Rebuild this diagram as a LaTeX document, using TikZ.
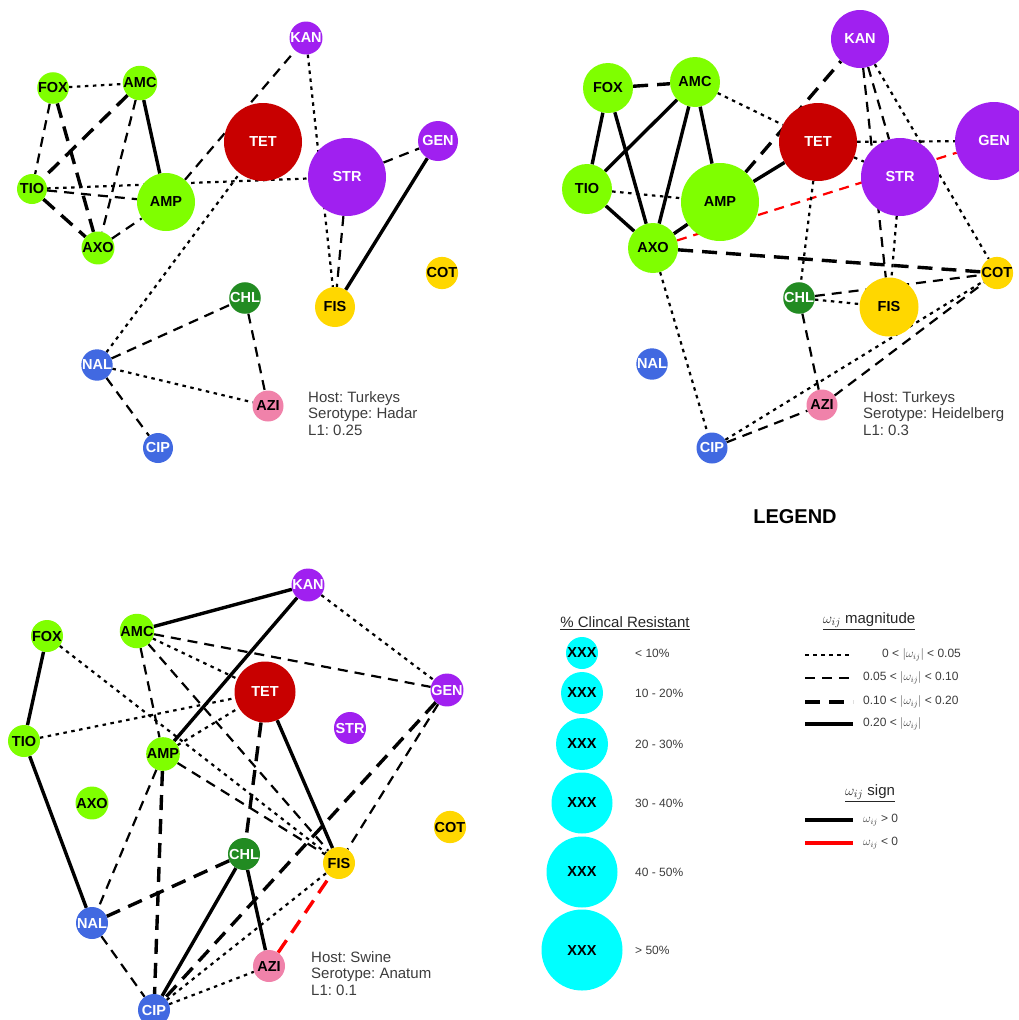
\documentclass[tikz,border=0pt]{standalone}
\usepackage{fontspec}
\setmainfont{Liberation Sans}
\frenchspacing
\pgfdeclarelayer{edges}
\pgfsetlayers{edges,main}

\definecolor{betaGreen}{RGB}{127,255,0}
\definecolor{tetRed}{RGB}{200,0,0}
\definecolor{aminoPurple}{RGB}{160,32,240}
\definecolor{sulfaGold}{RGB}{255,215,0}
\definecolor{phenGreen}{RGB}{34,139,34}
\definecolor{quinBlue}{RGB}{65,105,225}
\definecolor{macroPink}{RGB}{240,130,170}
\definecolor{legCyan}{RGB}{0,255,255}
\definecolor{noteGray}{RGB}{60,60,60}

\tikzset{
  abx/.style={circle, inner sep=0pt, minimum size=#1pt, font=\fontsize{14.5}{16}\selectfont\bfseries},
  beta/.style={fill=betaGreen, text=black},
  tetra/.style={fill=tetRed, text=white},
  amino/.style={fill=aminoPurple, text=white},
  sulfa/.style={fill=sulfaGold, text=black},
  phen/.style={fill=phenGreen, text=white},
  quin/.style={fill=quinBlue, text=white},
  macro/.style={fill=macroPink, text=black},
  % edge classes by |omega_ij|
  e1/.style={line width=2.2pt, dash pattern=on 3.5pt off 4.5pt},
  e2/.style={line width=2.2pt, dash pattern=on 10pt off 7pt},
  e3/.style={line width=3.4pt, dash pattern=on 15pt off 9pt},
  e4/.style={line width=3.4pt},
  neg/.style={draw=red},
  note/.style={align=left, inner sep=0pt, anchor=north west, text=noteGray, font=\fontsize{15}{16.5}\selectfont},
  head/.style={inner sep=0pt, text=black!85, font=\fontsize{15}{17}\selectfont},
  lab/.style={inner sep=0pt, anchor=west, text=noteGray, font=\fontsize{12}{14}\selectfont},
}

\begin{document}
\begin{tikzpicture}[x=1pt,y=-1pt]
  \useasboundingbox (0,0) rectangle (1018,1020);

  % Turkeys / Hadar
  \node[abx=30, amino] (hKAN) at (306,38) {KAN};
  \node[abx=31, beta] (hFOX) at (53,88) {FOX};
  \node[abx=31, beta] (hAMC) at (140,83) {AMC};
  \node[abx=78, tetra] (hTET) at (263,142) {TET};
  \node[abx=78, amino] (hSTR) at (347,177) {STR};
  \node[abx=40, amino] (hGEN) at (438,141) {GEN};
  \node[abx=30, beta] (hTIO) at (32,189) {TIO};
  \node[abx=58, beta] (hAMP) at (166,202) {AMP};
  \node[abx=32, beta] (hAXO) at (98,248) {AXO};
  \node[abx=32, sulfa] (hCOT) at (442,273) {COT};
  \node[abx=30, phen] (hCHL) at (245,298) {CHL};
  \node[abx=40, sulfa] (hFIS) at (335,307) {FIS};
  \node[abx=31, quin] (hNAL) at (97,365) {NAL};
  \node[abx=31, macro] (hAZI) at (268,406) {AZI};
  \node[abx=30, quin] (hCIP) at (158,448) {CIP};
  \node[note] (hNote) at (308,391) {Host: Turkeys\\Serotype: Hadar\\L1: 0.25};

  \begin{pgfonlayer}{edges}
    \draw[e1] (hFOX) -- (hAMC);
    \draw[e2] (hFOX) -- (hTIO);
    \draw[e3] (hFOX) -- (hAXO);
    \draw[e3] (hAMC) -- (hTIO);
    \draw[e2] (hAMC) -- (hAXO);
    \draw[e4] (hAMC) -- (hAMP);
    \draw[e1] (hTIO) -- (hSTR);
    \draw[e2] (hTIO) -- (hAMP);
    \draw[e3] (hTIO) -- (hAXO);
    \draw[e2] (hAXO) -- (hAMP);
    \draw[e2] (hAMP) -- (hKAN);
    \draw[e1] (hKAN) -- (hFIS);
    \draw[e2] (hSTR) -- (hGEN);
    \draw[e4] (hGEN) -- (hFIS);
    \draw[e2] (hSTR) -- (hFIS);
    \draw[e1] (hNAL) -- (hTET);
    \draw[e2] (hNAL) -- (hCHL);
    \draw[e1] (hNAL) -- (hAZI);
    \draw[e2] (hNAL) -- (hCIP);
    \draw[e2] (hCHL) -- (hAZI);
  \end{pgfonlayer}

  % Turkeys / Heidelberg
  \node[abx=58, amino] (dKAN) at (860,39) {KAN};
  \node[abx=50, beta] (dFOX) at (608,88) {FOX};
  \node[abx=50, beta] (dAMC) at (695,82) {AMC};
  \node[abx=78, tetra] (dTET) at (818,142) {TET};
  \node[abx=78, amino] (dGEN) at (994,141) {GEN};
  \node[abx=78, amino] (dSTR) at (900,177) {STR};
  \node[abx=50, beta] (dTIO) at (587,189) {TIO};
  \node[abx=78, beta] (dAMP) at (720,202) {AMP};
  \node[abx=50, beta] (dAXO) at (653,248) {AXO};
  \node[abx=32, sulfa] (dCOT) at (997,273) {COT};
  \node[abx=31, phen] (dCHL) at (799,298) {CHL};
  \node[abx=59, sulfa] (dFIS) at (889,307) {FIS};
  \node[abx=30, quin] (dNAL) at (652,364) {NAL};
  \node[abx=31, macro] (dAZI) at (822,405) {AZI};
  \node[abx=31, quin] (dCIP) at (712,448) {CIP};
  \node[note] (dNote) at (863,391) {Host: Turkeys\\Serotype: Heidelberg\\L1: 0.3};

  \begin{pgfonlayer}{edges}
    \draw[e3] (dFOX) -- (dAMC);
    \draw[e4] (dFOX) -- (dTIO);
    \draw[e4] (dFOX) -- (dAXO);
    \draw[e4] (dAMC) -- (dTIO);
    \draw[e4] (dAMC) -- (dAXO);
    \draw[e4] (dAMC) -- (dAMP);
    \draw[e1] (dAMC) -- (dTET);
    \draw[e1] (dTIO) -- (dAMP);
    \draw[e4] (dTIO) -- (dAXO);
    \draw[e4] (dAXO) -- (dAMP);
    \draw[e4] (dAMP) -- (dTET);
    \draw[e3] (dAMP) -- (dKAN);
    \draw[e2, neg] (dAXO) -- (dGEN);
    \draw[e3] (dAXO) -- (dCOT);
    \draw[e1] (dAXO) -- (dCIP);
    \draw[e1] (dTET) -- (dGEN);
    \draw[e1] (dTET) -- (dSTR);
    \draw[e1] (dTET) -- (dCHL);
    \draw[e2] (dKAN) -- (dSTR);
    \draw[e2] (dKAN) -- (dFIS);
    \draw[e1] (dKAN) -- (dCOT);
    \draw[e1] (dSTR) -- (dFIS);
    \draw[e1] (dCHL) -- (dFIS);
    \draw[e2] (dCHL) -- (dCOT);
    \draw[e2] (dCHL) -- (dAZI);
    \draw[e1] (dCIP) -- (dCOT);
    \draw[e2] (dCIP) -- (dAZI);
    \draw[e2] (dAZI) -- (dCOT);
  \end{pgfonlayer}

  % Swine / Anatum
  \node[abx=32, amino] (aKAN) at (308,585) {KAN};
  \node[abx=32, beta] (aFOX) at (47,636) {FOX};
  \node[abx=32, beta] (aAMC) at (137,631) {AMC};
  \node[abx=61, tetra] (aTET) at (265,692) {TET};
  \node[abx=32, amino] (aGEN) at (447,690) {GEN};
  \node[abx=32, beta] (aTIO) at (24,741) {TIO};
  \node[abx=32, amino] (aSTR) at (350,728) {STR};
  \node[abx=32, beta] (aAMP) at (163,754) {AMP};
  \node[abx=32, beta] (aAXO) at (92,803) {AXO};
  \node[abx=32, sulfa] (aCOT) at (450,827) {COT};
  \node[abx=32, phen] (aCHL) at (244,854) {CHL};
  \node[abx=32, sulfa] (aFIS) at (339,863) {FIS};
  \node[abx=32, quin] (aNAL) at (92,923) {NAL};
  \node[abx=32, macro] (aAZI) at (269,966) {AZI};
  \node[abx=32, quin] (aCIP) at (154,1010) {CIP};
  \node[note] (aNote) at (311,951) {Host: Swine\\Serotype: Anatum\\L1: 0.1};

  \begin{pgfonlayer}{edges}
    \draw[e4] (aKAN) -- (aAMC);
    \draw[e4] (aKAN) -- (aAMP);
    \draw[e1] (aKAN) -- (aGEN);
    \draw[e2] (aAMC) -- (aGEN);
    \draw[e1] (aAMC) -- (aTET);
    \draw[e2] (aAMC) -- (aAMP);
    \draw[e2] (aAMC) -- (aFIS);
    \draw[e4] (aFOX) -- (aTIO);
    \draw[e1] (aFOX) -- (aFIS);
    \draw[e1] (aTIO) -- (aTET);
    \draw[e4] (aTIO) -- (aNAL);
    \draw[e1] (aAMP) -- (aTET);
    \draw[e2] (aAMP) -- (aFIS);
    \draw[e2] (aAMP) -- (aNAL);
    \draw[e3] (aAMP) -- (aCIP);
    \draw[e3] (aTET) -- (aCHL);
    \draw[e4] (aTET) -- (aFIS);
    \draw[e3] (aGEN) -- (aCIP);
    \draw[e2] (aGEN) -- (aFIS);
    \draw[e3] (aCHL) -- (aNAL);
    \draw[e4] (aCHL) -- (aCIP);
    \draw[e4] (aCHL) -- (aAZI);
    \draw[e2] (aNAL) -- (aCIP);
    \draw[e1] (aCIP) -- (aFIS);
    \draw[e1] (aCIP) -- (aAZI);
    \draw[e3, neg] (aAZI) -- (aFIS);
  \end{pgfonlayer}

  % Legend
  \node[font=\fontsize{20}{22}\selectfont\bfseries] (legTitle) at (795,517) {LEGEND};

  \node[head] (sizeHead) at (625,623) {\underline{\% Clincal Resistant}};
  \node[abx=32, fill=legCyan] (s1) at (582,653) {XXX};
  \node[abx=42, fill=legCyan] (s2) at (582,693) {XXX};
  \node[abx=52, fill=legCyan] (s3) at (582,744) {XXX};
  \node[abx=61, fill=legCyan] (s4) at (582,803) {XXX};
  \node[abx=71, fill=legCyan] (s5) at (582,872) {XXX};
  \node[abx=81, fill=legCyan] (s6) at (582,950) {XXX};
  \node[lab] at (635,653) {< 10\%};
  \node[lab] at (635,693) {10 - 20\%};
  \node[lab] at (635,744) {20 - 30\%};
  \node[lab] at (635,803) {30 - 40\%};
  \node[lab] at (635,872) {40 - 50\%};
  \node[lab] at (635,950) {> 50\%};

  \node[head] (magHead) at (869,621) {\underline{$\omega_{ij}$ magnitude}};
  \coordinate (m1a) at (805,655); \coordinate (m1b) at (853,655);
  \coordinate (m2a) at (805,678); \coordinate (m2b) at (853,678);
  \coordinate (m3a) at (805,702); \coordinate (m3b) at (853,702);
  \coordinate (m4a) at (805,724); \coordinate (m4b) at (853,724);
  \draw[e1] (m1a) -- (m1b);
  \draw[e2] (m2a) -- (m2b);
  \draw[e3] (m3a) -- (m3b);
  \draw[e4] (m4a) -- (m4b);
  \node[lab] at (882,655) {0 < $|\omega_{ij}|$ < 0.05};
  \node[lab] at (863,678) {0.05 < $|\omega_{ij}|$ < 0.10};
  \node[lab] at (863,702) {0.10 < $|\omega_{ij}|$ < 0.20};
  \node[lab] at (863,724) {0.20 < $|\omega_{ij}|$};

  \node[head] (signHead) at (870,793) {\underline{$\omega_{ij}$ sign}};
  \coordinate (g1a) at (805,820); \coordinate (g1b) at (853,820);
  \coordinate (g2a) at (805,843); \coordinate (g2b) at (853,843);
  \draw[e4] (g1a) -- (g1b);
  \draw[e4, neg] (g2a) -- (g2b);
  \node[lab] at (863,820) {$\omega_{ij}$ > 0};
  \node[lab] at (863,843) {$\omega_{ij}$ < 0};
\end{tikzpicture}
\end{document}
